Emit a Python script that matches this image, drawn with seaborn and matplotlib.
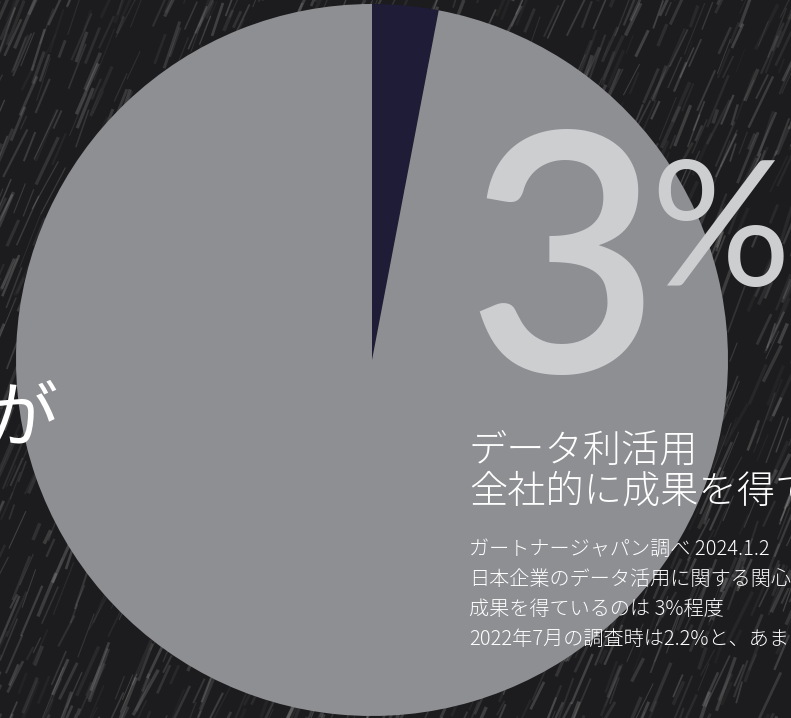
import numpy as np
import matplotlib
matplotlib.use("Agg")
import matplotlib.pyplot as plt
import seaborn as sns
from matplotlib.collections import LineCollection

# ---- data ----
labels = ["全社的に成果を得ている", "その他"]
shares = [3, 97]
slice_colors = ["#1e1c36", "#8e8f93"]
big_number = "3"
big_unit = "%"
side_text = "が"
headline = ["データ利活用", "全社的に成果を得て"]
notes = ["ガートナージャパン調べ 2024.1.2",
         "日本企業のデータ活用に関する関心",
         "成果を得ているのは 3%程度",
         "2022年7月の調査時は2.2%と、あま"]

sns.set_theme(style="dark")
plt.rcParams['font.family'] = ['Noto Sans CJK JP', 'DejaVu Sans']

W, H = 791, 718
fig = plt.figure(figsize=(W / 100, H / 100), dpi=100)
fig.patch.set_facecolor("#1c1b1d")
ax = fig.add_axes([0, 0, 1, 1])
ax.set_facecolor("#1c1b1d")

# rain texture (decoration only)
rng = np.random.default_rng(3)
n = 2200
x0 = rng.uniform(-0.15, 1.05, n)
y0 = rng.uniform(-0.08, 1.02, n)
ln = rng.uniform(0.02, 0.08, n)
ang = np.deg2rad(rng.normal(67, 2.5, n))
segs = [[(x, y), (x + l * np.cos(a) * H / W, y + l * np.sin(a))] for x, y, l, a in zip(x0, y0, ln, ang)]
alphas = rng.uniform(0.04, 0.22, n)
cols = [(0.8, 0.8, 0.8, a) for a in alphas]
lc = LineCollection(segs, colors=cols, linewidths=rng.uniform(0.6, 2.6, n),
                    transform=ax.transAxes, zorder=0)
ax.add_collection(lc)

# pie: centre at pixel (372, 360), radius 356
cx, cy, r = 372, 360, 356
ax.pie(shares, colors=slice_colors, startangle=90, counterclock=False,
       radius=1.0, center=(0, 0), wedgeprops=dict(linewidth=0))
ax.set_xlim(-cx / r, (W - cx) / r)
ax.set_ylim(-(H - cy) / r, cy / r)
ax.set_aspect("auto")
ax.axis("off")

def P(x, y):
    return x / W, 1 - y / H

light = "#cdced0"
ax.text(*P(466, 372), big_number, transform=ax.transAxes, fontsize=240,
        color=light, family=["Lato", "DejaVu Sans"], fontweight="semibold",
        va="baseline", ha="left", zorder=5)
ax.text(*P(650, 286), big_unit, transform=ax.transAxes, fontsize=126,
        color=light, family=["Lato", "DejaVu Sans"], fontweight="normal",
        va="baseline", ha="left", zorder=5)

ax.text(*P(22, 420), side_text, transform=ax.transAxes, fontsize=52,
        color="white", va="center", ha="center", zorder=5)

for i, t in enumerate(headline):
    ax.text(*P(469, 462 + i * 41), t, transform=ax.transAxes, fontsize=27.5,
            color="white", fontweight="light", va="baseline", ha="left", zorder=5)

for i, t in enumerate(notes):
    ax.text(*P(469, 555 + i * 30), t, transform=ax.transAxes, fontsize=14.5,
            color="white", fontweight="light", va="baseline", ha="left", zorder=5)

fig.savefig("out.png", dpi=100, facecolor=fig.get_facecolor())
